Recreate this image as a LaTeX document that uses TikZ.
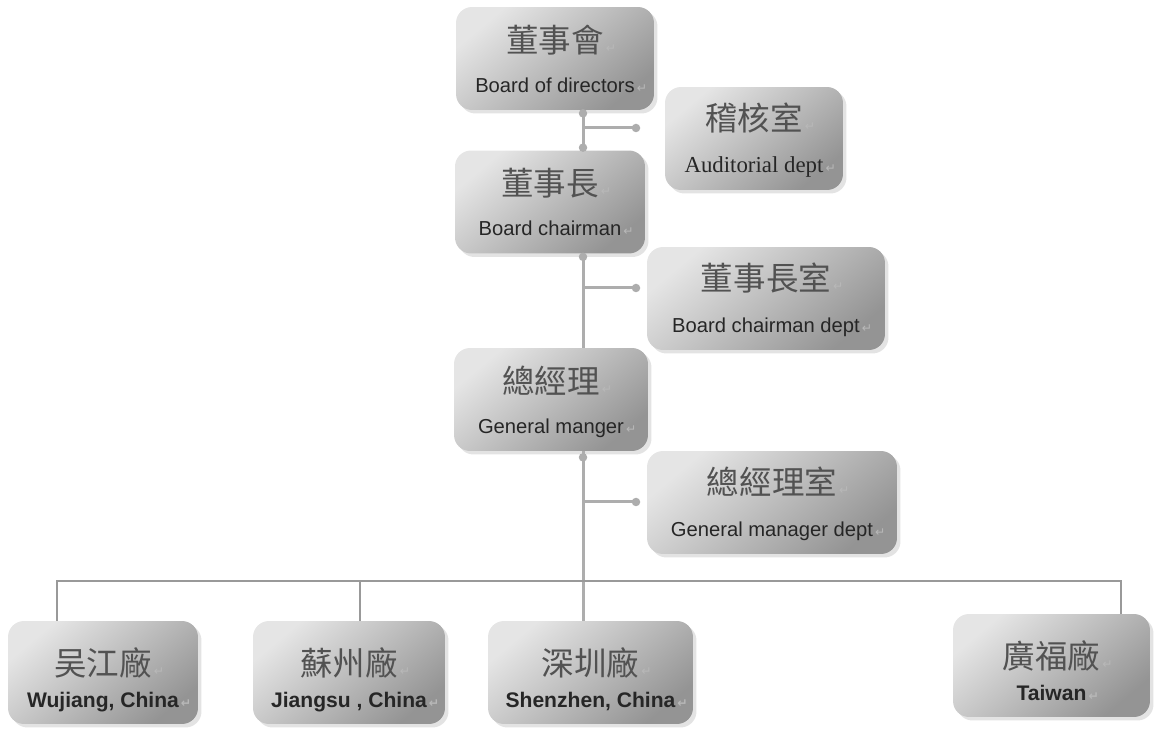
\documentclass[tikz,border=0pt]{standalone}
\usepackage{fontspec}
\setmainfont{Liberation Sans}
\newfontfamily\cjk{Noto Sans CJK TC}
\newfontfamily\tms{Liberation Serif}
\newfontfamily\sym{DejaVu Sans}
\usetikzlibrary{shadows}
\newcommand{\ret}{\rlap{\sym\color{black!28}\fontsize{7}{7}\selectfont\,↵}}

\tikzset{
  orgbox/.style={rounded corners=0.32cm, minimum height=2.06cm, inner sep=0pt,
    top color=black!10, bottom color=black!42, shading angle=40,
    drop shadow={shadow xshift=0.07cm, shadow yshift=-0.07cm, opacity=0.22}},
  zh/.style={font=\cjk\fontsize{18.5}{20}\selectfont, text=black!68},
  en/.style={font=\fontsize{11.5}{13}\selectfont, text=black!85, anchor=base},
  enb/.style={en, font=\bfseries\fontsize{12}{14}\selectfont},
  trunk/.style={draw=black!32, line width=0.06cm},
  bus/.style={draw=black!40, line width=0.03cm},
  dot/.style={circle, fill=black!32, inner sep=0pt, minimum size=0.17cm},
}

\begin{document}
\begin{tikzpicture}[x=0.02cm, y=-0.02cm]
\useasboundingbox (0,0) rectangle (1154,729);

% boxes
\node[orgbox, minimum width=3.96cm] (board) at (555,58.5) {};
\node[orgbox, minimum width=3.56cm] (audit) at (754,138.5) {};
\node[orgbox, minimum width=3.80cm] (chair) at (550,202) {};
\node[orgbox, minimum width=4.76cm] (chairdept) at (766,298.5) {};
\node[orgbox, minimum width=3.88cm] (gm) at (551,399.5) {};
\node[orgbox, minimum width=5.00cm] (gmdept) at (772,502.5) {};

\node[orgbox, minimum width=3.80cm] (wujiang) at (103,672.5) {};
\node[orgbox, minimum width=3.84cm] (jiangsu) at (349,672.5) {};
\node[orgbox, minimum width=4.10cm] (shenzhen) at (590.5,672.5) {};
\node[orgbox, minimum width=3.94cm] (taiwan) at (1051.5,665.5) {};

% texts
\node[zh] (board-zh) at ([yshift=-0.66cm]board.north) {董事會\ret};
\node[en] (board-en) at ([yshift=0.36cm]board.south) {Board of directors\ret};
\node[zh] (audit-zh) at ([yshift=-0.62cm]audit.north) {稽核室\ret};
\node[en, font=\tms\fontsize{13}{15}\selectfont] (audit-en) at ([yshift=0.36cm]audit.south) {Auditorial dept\ret};
\node[zh] (chair-zh) at ([yshift=-0.66cm]chair.north) {董事長\ret};
\node[en] (chair-en) at ([yshift=0.36cm]chair.south) {Board chairman\ret};
\node[zh] (chairdept-zh) at ([yshift=-0.62cm]chairdept.north) {董事長室\ret};
\node[en] (chairdept-en) at ([yshift=0.36cm]chairdept.south) {Board chairman dept\ret};
\node[zh] (gm-zh) at ([yshift=-0.66cm]gm.north) {總經理\ret};
\node[en] (gm-en) at ([yshift=0.36cm]gm.south) {General manger\ret};
\node[zh] (gmdept-zh) at ([yshift=-0.62cm]gmdept.north) {總經理室\ret};
\node[en] (gmdept-en) at ([yshift=0.36cm]gmdept.south) {General manager dept\ret};

\node[zh] (wujiang-zh) at ([yshift=-0.84cm]wujiang.north) {吴江廠\ret};
\node[enb] (wujiang-en) at ([yshift=0.34cm]wujiang.south) {Wujiang, China\ret};
\node[zh] (jiangsu-zh) at ([yshift=-0.84cm]jiangsu.north) {蘇州廠\ret};
\node[enb] (jiangsu-en) at ([yshift=0.34cm]jiangsu.south) {Jiangsu , China\ret};
\node[zh] (shenzhen-zh) at ([yshift=-0.84cm]shenzhen.north) {深圳廠\ret};
\node[enb] (shenzhen-en) at ([yshift=0.34cm]shenzhen.south) {Shenzhen, China\ret};
\node[zh] (taiwan-zh) at ([yshift=-0.84cm]taiwan.north) {廣福廠\ret};
\node[enb] (taiwan-en) at ([yshift=0.34cm]taiwan.south) {Taiwan\ret};

% trunk and branches
\coordinate (tx) at (583,0);
\coordinate (b1) at (636,128);
\coordinate (b2) at (636,288);
\coordinate (b3) at (636,502);

\draw[trunk] (board.south -| tx) -- (chair.north -| tx);
\draw[trunk] (chair.south -| tx) -- (gm.north -| tx);
\draw[trunk] (gm.south -| tx) -- (shenzhen.north -| tx);
\draw[trunk] (b1 -| tx) -- (b1);
\draw[trunk] (b2 -| tx) -- (b2);
\draw[trunk] (b3 -| tx) -- (b3);

\node[dot] at ([yshift=-0.06cm]board.south -| tx) {};
\node[dot] at ([yshift=0.05cm]chair.north -| tx) {};
\node[dot] at ([yshift=-0.06cm]chair.south -| tx) {};
\node[dot] at ([yshift=-0.12cm]gm.south -| tx) {};
\node[dot] at (b1) {};
\node[dot] at (b2) {};
\node[dot] at (b3) {};

% plants
\coordinate (d1) at (57,581);
\coordinate (d2) at (360,581);
\coordinate (d4) at (1121,581);
\draw[bus] (wujiang.north -| d1) -- (d1) -- (d4) -- (taiwan.north -| d4);
\draw[bus] (d2) -- (jiangsu.north -| d2);

\end{tikzpicture}
\end{document}
